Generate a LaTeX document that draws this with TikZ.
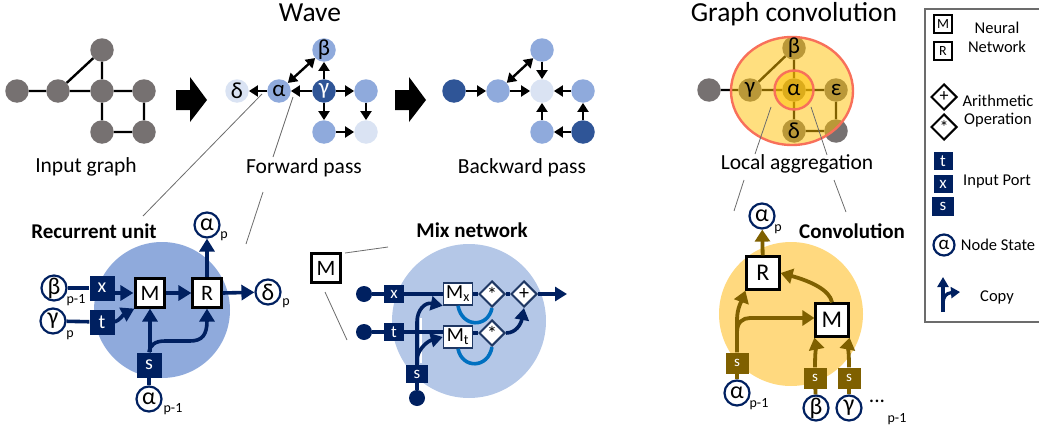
\documentclass[tikz,border=0pt]{standalone}
\usepackage{fontspec}
\setmainfont{Carlito}
\usetikzlibrary{arrows.meta,shapes.geometric}
\definecolor{navy}{HTML}{002060}
\definecolor{gnavy}{HTML}{1F3864}
\definecolor{gray1}{HTML}{767171}
\definecolor{blue1}{HTML}{8FAADC}
\definecolor{blue2}{HTML}{B4C7E7}
\definecolor{blue3}{HTML}{DAE3F3}
\definecolor{blue4}{HTML}{2F5597}
\definecolor{olive}{HTML}{7F6000}
\definecolor{amber}{HTML}{FFD97F}
\definecolor{gold}{HTML}{FFC000}
\definecolor{ringc}{HTML}{F8705A}
\definecolor{arcblue}{HTML}{0070C0}
\newcommand{\fsz}[1]{\fontsize{#1}{#1}\selectfont}
\tikzset{
  x=1pt,y=-1pt,
  gn/.style={circle,minimum size=23.5pt,inner sep=0pt,fill=#1},
  txt/.style={inner sep=0pt,font=\fsz{21.5}},
  ttl/.style={inner sep=0pt,anchor=base,font=\fsz{27.5}},
  hd/.style={inner sep=0pt,font=\fsz{21}\bfseries},
  leg/.style={inner sep=0pt,font=\fsz{16.5}},
  sub/.style={inner sep=0pt,font=\fsz{14}},
  gtxt/.style={inner sep=0pt,font=\fsz{23}},
  ged/.style={line width=2.4pt,black},
  gar/.style={line width=2.4pt,black,-{Triangle[length=9pt,width=11pt]}},
  gbi/.style={line width=2.4pt,black,{Triangle[length=9pt,width=11pt]}-{Triangle[length=9pt,width=11pt]}},
  callout/.style={draw=gray!85!black,line width=0.8pt},
  nnbox/.style={draw=black,line width=2.2pt,fill=white,minimum size=#1,inner sep=0pt,font=\fsz{22}},
  nnbox/.default=29pt,
  port/.style={fill=#1,text=white,inner sep=0pt,font=\fsz{20}},
  st/.style={circle,draw=navy,line width=2.2pt,fill=white,minimum size=25pt,inner sep=0pt,font=\fsz{24}},
  navyl/.style={draw=navy,line width=3.6pt},
  navya/.style={draw=navy,line width=3.6pt,-{Triangle[length=13pt,width=15pt]}},
  olivel/.style={draw=olive,line width=3.8pt},
  olivea/.style={draw=olive,line width=3.8pt,-{Triangle[length=12pt,width=15pt]}},
  mixa/.style={draw=navy,line width=3.6pt,-{Triangle[length=12pt,width=14pt]}},
  mbox/.style={draw=gnavy,line width=1.5pt,fill=white,minimum width=29pt,minimum height=22pt,inner sep=0pt,font=\fsz{20}},
  dia/.style={diamond,aspect=1,draw=#1,line width=2pt,fill=white,minimum size=26pt,inner sep=0pt,font=\fsz{20}},
  dia/.default=gnavy,
  dot/.style={circle,fill=navy,minimum size=16pt,inner sep=0pt},
}
\begin{document}
\begin{tikzpicture}
\useasboundingbox (0,0) rectangle (1039,431);
% ---------- titles
\node[ttl] (tWave) at (310,21) {Wave};
\node[ttl] (tGC) at (794,21) {Graph convolution};
\node[txt] (tIn) at (86,167) {Input graph};
\node[txt] (tFw) at (304,168) {Forward pass};
\node[txt] (tBw) at (522,168) {Backward pass};
\node[txt] (tLa) at (797,164) {Local aggregation};
\node[hd] (tRu) at (94,231) {Recurrent unit};
\node[hd] (tMn) at (472,230) {Mix network};
\node[hd] (tCv) at (852,231) {Convolution};
% ---------- input graph
\node[gn=gray1] (i1) at (17,91) {};
\node[gn=gray1] (i2) at (58,91) {};
\node[gn=gray1] (i3) at (102,91) {};
\node[gn=gray1] (i4) at (144,91) {};
\node[gn=gray1] (i5) at (102,50) {};
\node[gn=gray1] (i6) at (102,132) {};
\node[gn=gray1] (i7) at (144,132) {};
\draw[ged] (i1)--(i2) (i2)--(i3) (i3)--(i4) (i2)--(i5) (i5)--(i3) (i3)--(i6) (i6)--(i7) (i7)--(i4);
% big arrows
\fill (176,90)--(190,90)--(190,77)--(207,100)--(190,122)--(190,110)--(176,110)--cycle;
\fill (395,90)--(409,90)--(409,77)--(426,100)--(409,122)--(409,110)--(395,110)--cycle;
% ---------- forward
\node[gn=blue3,font=\fsz{23}] (fd) at (237,91) {δ};
\node[gn=blue1,font=\fsz{23}] (fa) at (279,91) {α};
\node[gn=blue1,font=\fsz{23}] (fb) at (324,50) {β};
\node[gn=blue4,text=white,font=\fsz{23}] (fg) at (324,91) {γ};
\node[gn=blue1] (fr) at (366,91) {};
\node[gn=blue1] (fo) at (324,132) {};
\node[gn=blue3] (fq) at (366,132) {};
\draw[gar] (fa)--(fd);
\draw[gar] (fg)--(fa);
\draw[gar] (fg)--(fb);
\draw[gar] (fg)--(fr);
\draw[gar] (fg)--(fo);
\draw[gar] (fr)--(fq);
\draw[gar] (fo)--(fq);
\draw[gbi] (fa)--(fb);
% ---------- backward
\node[gn=blue4] (b1) at (454,91) {};
\node[gn=blue1] (b2) at (498,91) {};
\node[gn=blue3] (b3) at (542,91) {};
\node[gn=blue1] (b4) at (583,91) {};
\node[gn=blue1] (b5) at (542,50) {};
\node[gn=blue1] (b6) at (542,132) {};
\node[gn=blue4] (b7) at (583,132) {};
\draw[gar] (b1)--(b2);
\draw[gar] (b2)--(b3);
\draw[gar] (b4)--(b3);
\draw[gar] (b5)--(b3);
\draw[gar] (b6)--(b3);
\draw[gar] (b7)--(b4);
\draw[gar] (b7)--(b6);
\draw[gbi] (b2)--(b5);
% ---------- graph convolution
\node[gn=gray1] (c0) at (709,90) {};
\node[gn=gray1] (cg) at (750,90) {};
\node[gn=gray1] (ca) at (794,90) {};
\node[gn=gray1] (ce) at (836,90) {};
\node[gn=gray1] (cb) at (794,48) {};
\node[gn=gray1] (cd) at (794,131) {};
\node[gn=gray1] (cq) at (836,131) {};
\draw[ged] (c0)--(cg) (cg)--(ca) (ca)--(ce) (ca)--(cb) (ca)--(cd) (cg)--(cb) (ce)--(cq) (cd)--(cq);
\node[ellipse,minimum width=122pt,minimum height=108pt,inner sep=0pt,draw=ringc,line width=2.4pt,fill=gold,fill opacity=0.5,draw opacity=1] (cEll) at (792,91) {};
\node[circle,minimum size=39pt,inner sep=0pt,draw=ringc,line width=2.4pt,fill=gold,fill opacity=0.5,draw opacity=1] (cIn) at (794,90) {};
\node[gtxt] at (cg) {γ};
\node[gtxt] at (ca) {α};
\node[gtxt] at (ce) {ε};
\node[gtxt] at (cb) {β};
\node[gtxt] at (cd) {δ};
% ---------- callout lines
\coordinate (l1a) at (262,94); \coordinate (l1b) at (143,216);
\coordinate (l2a) at (293,97); \coordinate (l2b) at (273,157);
\coordinate (l3a) at (263,192); \coordinate (l3b) at (246,244);
\coordinate (l4a) at (345,253); \coordinate (l4b) at (388,247);
\coordinate (l5a) at (325,292); \coordinate (l5b) at (347,340);
\coordinate (l6a) at (771,107); \coordinate (l6b) at (755,154);
\coordinate (l7a) at (744,180); \coordinate (l7b) at (734,211);
\coordinate (l8a) at (811,107); \coordinate (l8b) at (827,155);
\coordinate (l9a) at (834,180); \coordinate (l9b) at (846,212);
\draw[callout] (l1a)--(l1b);
\draw[callout] (l2a)--(l2b);
\draw[callout] (l3a)--(l3b);
\draw[callout] (l4a)--(l4b);
\draw[callout] (l5a)--(l5b);
\draw[callout] (l6a)--(l6b);
\draw[callout] (l7a)--(l7b);
\draw[callout] (l8a)--(l8b);
\draw[callout] (l9a)--(l9b);
% ---------- recurrent unit
\node[circle,fill=blue1,minimum size=136pt,inner sep=0pt] (rBg) at (162,310) {};
\node[st] (rb) at (54,288) {β};
\node[st] (rg) at (53,321) {γ};
\node[port=navy,minimum size=25pt] (rx) at (102,288) {x};
\node[port=navy,minimum size=25pt] (rt) at (102,322) {t};
\node[nnbox] (rM) at (150,293) {M};
\node[nnbox] (rR) at (207,293) {R};
\node[port=navy,minimum size=25pt] (rs) at (149,365) {s};
\node[st] (raB) at (149,399) {α};
\node[st] (raT) at (207,225) {α};
\node[st] (rd) at (268,292) {δ};
\node[sub] at (76,300) {p-1};
\node[sub] at (70,335) {p};
\node[sub] at (173,409) {p-1};
\node[sub] at (224,236) {p};
\node[sub] at (286,303) {p};
\draw[navyl] (rb)--(rx);
\draw[navyl] (rg)--(rt);
\draw[navyl] (raB)--(rs);
\draw[navya,shorten >=1pt] (rx.east|-rM) -- (rM.west);
\draw[navya] (rt.east) .. controls (120,320) and (124,314) .. (rM.south west);
\draw[navya] (rs.north-|rM)--(rM.south);
\draw[navya] (rM)--(rR);
\draw[navya] (rR)--(raT);
\draw[navya] (rR.east)--(rd);
\draw[navya] (rs.north) .. controls (150,345) and (155,341) .. (165,341) -- (190,341) .. controls (202,341) and (207,335) .. (rR.south);
% ---------- mix network
\node[nnbox] (mOut) at (326,268) {M};
\node[circle,fill=blue2,minimum size=154pt,inner sep=0pt] (mBg) at (469,321) {};
\node[dot] (m1) at (364,294) {};
\node[dot] (m2) at (364,332) {};
\node[dot] (m3) at (417,398) {};
\node[port=navy,minimum width=20pt,minimum height=18pt,font=\fsz{17}] (mx) at (394,294) {x};
\node[port=navy,minimum width=20pt,minimum height=18pt,font=\fsz{17}] (mt) at (394,332) {t};
\node[port=navy,minimum width=22pt,minimum height=18pt,font=\fsz{17}] (ms) at (417,374) {s};
\node[mbox] (mMx) at (458,294) {M\textsubscript{x}};
\node[mbox] (mMt) at (458,337) {M\textsubscript{t}};
\node[dia] (mD1) at (492,294) {*};
\node[dia] (mD2) at (492,333) {*};
\node[dia] (mD3) at (524,294) {+};
\coordinate (mEnd) at (567,294);
\coordinate (wA) at (420.5,318); \coordinate (wB) at (420.5,363);
\draw[white,line width=2pt] (wA)--(wB);
\draw[navyl] (m1)--(mx);
\draw[navyl] (mx)--(mMx);
\draw[navyl] (m2)--(mt);
\draw[navyl] (mt)--(mMt.west|-mt);
\draw[navyl] (mMx)--(mD1);
\draw[navyl] (mD1)--(mD3);
\draw[navyl] (mMt.east|-mD2)--(mD2);
\draw[navyl] (m3)--(ms);
\draw[mixa] (mD3)--(mEnd);
\draw[mixa] (ms.north) -- (417,322) .. controls (417,310) and (425,302) .. (mMx.south west);
\draw[mixa] (417,358) .. controls (419,348) and (428,341) .. (mMt.west);
\draw[mixa] (mD2.east) .. controls (516,333) and (521,324) .. (mD3.south);
\draw[arcblue,line width=3.6pt] (mMx.south) .. controls (462,328) and (488,328) .. (mD1.south);
\draw[arcblue,line width=3.6pt] (mMt.south) .. controls (462,369) and (488,369) .. (mD2.south);
% ---------- convolution
\node[circle,fill=amber,minimum size=144pt,inner sep=0pt] (vBg) at (791,314) {};
\node[st] (vaT) at (762,216) {α};
\node[nnbox=33pt,font=\fsz{24}] (vR) at (763,273) {R};
\node[nnbox=33pt,font=\fsz{24}] (vM) at (832,320) {M};
\node[port=olive,minimum width=23pt,minimum height=21pt,font=\fsz{15}] (vs1) at (737,363) {s};
\node[port=olive,minimum width=23pt,minimum height=21pt,font=\fsz{15}] (vs2) at (815,378) {s};
\node[port=olive,minimum width=23pt,minimum height=21pt,font=\fsz{15}] (vs3) at (849,378) {s};
\node[st] (va) at (737,393) {α};
\node[st] (vb) at (816,408) {β};
\node[st] (vg) at (849,408) {γ};
\node[sub] at (778,229) {p};
\node[sub] at (759,404) {p-1};
\node[sub] at (897,419) {p-1};
\node[txt] at (877,401) {...};
\draw[olivel] (va)--(vs1);
\draw[olivel] (vb)--(vs2);
\draw[olivel] (vg)--(vs3);
\draw[olivea] (vR)--(vaT);
\draw[olivea] (vs1.north) -- (737,320) .. controls (737,308) and (742,300) .. (vR.south west);
\draw[olivea] (737,332) .. controls (737,322) and (743,318) .. (750,318) -- (vM.west|-0,318);
\draw[olivea] (vM.north) .. controls (830,290) and (810,281) .. (vR.east);
\draw[olivea] (vs2.north) .. controls (815,352) and (816,346) .. (vM.south west);
\draw[olivea] (vs3.north) .. controls (849,352) and (848,346) .. (vM.south east);
% ---------- legend
\coordinate (k1) at (1039,9); \coordinate (k2) at (925,9); \coordinate (k3) at (925,322); \coordinate (k4) at (1039,322);
\draw[gray!85!black,line width=2pt] (k1)--(k2)--(k3)--(k4);
\node[nnbox=18pt,font=\fsz{14}] (kM) at (943,24) {M};
\node[nnbox=18pt,font=\fsz{14}] (kR) at (943,51) {R};
\node[dia=black,minimum size=26pt,font=\fsz{18}] (kP) at (944,97) {+};
\node[dia=black,minimum size=26pt,font=\fsz{18}] (kS) at (944,127) {*};
\node[port=navy,minimum width=19pt,minimum height=18pt,font=\fsz{17}] (kt) at (943,161) {t};
\node[port=navy,minimum width=19pt,minimum height=18pt,font=\fsz{17}] (kx) at (943,184) {x};
\node[port=navy,minimum width=22pt,minimum height=19pt,font=\fsz{17}] (ks) at (943,206) {s};
\node[st,minimum size=21pt,font=\fsz{19}] (ka) at (944,245) {α};
\coordinate (kc1) at (943,312); \coordinate (kc2) at (943,277); \coordinate (kc3) at (960,292);
\draw[draw=navy,line width=3.2pt,-{Triangle[length=10pt,width=11pt]}] (kc1)--(kc2);
\draw[draw=navy,line width=3.2pt,-{Triangle[length=9pt,width=11pt]}] (943,304) .. controls (943,297) and (946,293) .. (kc3);
\node[leg] (k5) at (997,28) {Neural};
\node[leg] (k6) at (997,47) {Network};
\node[leg] (k7) at (998,101) {Arithmetic};
\node[leg] (k8) at (998,120) {Operation};
\node[leg] (k9) at (997,182) {Input Port};
\node[leg] (k10) at (998,245) {Node State};
\node[leg] (k11) at (997,297) {Copy};
\end{tikzpicture}
\end{document}
